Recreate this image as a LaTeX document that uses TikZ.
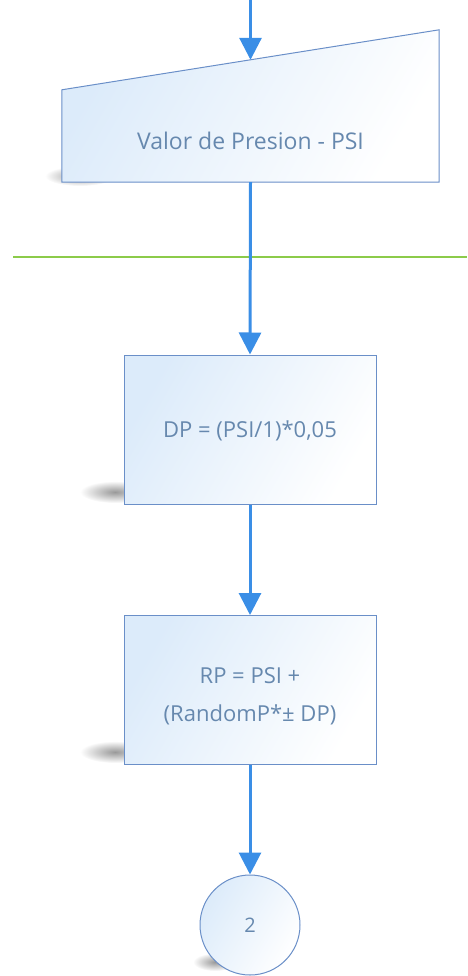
\documentclass[tikz,border=0pt]{standalone}
\usepackage{fontspec}
\setmainfont{Open Sans}
\usetikzlibrary{arrows.meta}
\definecolor{flowblue}{HTML}{3A8EE6}
\definecolor{edgeblue}{HTML}{6A8FC8}
\definecolor{txtblue}{HTML}{6688AE}
\definecolor{fillblue}{HTML}{DCEBFA}
\definecolor{sepgreen}{HTML}{8CCB4A}
\tikzset{
  flow/.style={draw=flowblue, line width=3pt, -{Triangle[length=22pt,width=22pt]}},
  boxfill/.style={draw=edgeblue, line width=1pt, left color=fillblue, right color=white, shading angle=60},
  procbox/.style={boxfill, rectangle, minimum width=252pt, minimum height=149pt, inner sep=0pt},
  label/.style={text=txtblue, align=center, font=\fontsize{22}{38}\selectfont},
  smudge/.style={inner color=black!40, outer color=white},
}
\begin{document}
\begin{tikzpicture}[x=1pt,y=-1pt]
  \useasboundingbox (0,0) rectangle (467,976);
  % soft shadows at the lower left of each shape
  \shade[smudge] (80,176) ellipse (35 and 10);
  \shade[smudge] (115,492) ellipse (35 and 11);
  \shade[smudge] (115,752) ellipse (35 and 11);
  \shade[smudge] (215,962) ellipse (22 and 9);
  % manual input
  \coordinate (start) at (250.5,0);
  \node[minimum width=377pt, minimum height=122pt, inner sep=0pt] (inp) at (250.5,121) {};
  \path[boxfill] (inp.south west) -- (inp.south east) -- ([yshift=30pt]inp.north east)
    -- ([yshift=-30pt]inp.north west) -- cycle;
  \node[label, font=\fontsize{23}{30}\selectfont] (inptext) at (250.5,141) {Valor de Presion - PSI};
  % separator
  \draw[sepgreen, line width=1.2pt] (13,257) -- (467,257);
  % processes
  \node[procbox] (dp) at (250,429.5) {};
  \node[label] (dptext) at (250,431) {DP = (PSI/1)*0,05};
  \node[procbox] (rp) at (250,690) {};
  \node[label] (rptext) at (250,696) {RP = PSI +\\(RandomP*\textpm{} DP)};
  % connector
  \node[draw=edgeblue, line width=1pt, circle, minimum size=100pt, inner sep=0pt,
    left color=fillblue, right color=white, shading angle=60, text=txtblue,
    font=\fontsize{20}{24}\selectfont] (c2) at (250,925) {2};
  % arrows
  \draw[flow] (start) -- (inp.north);
  \draw[flow] (inp.south) -- (dp.north);
  \draw[flow] (dp.south) -- (rp.north);
  \draw[flow] (rp.south) -- (c2.north);
\end{tikzpicture}
\end{document}
